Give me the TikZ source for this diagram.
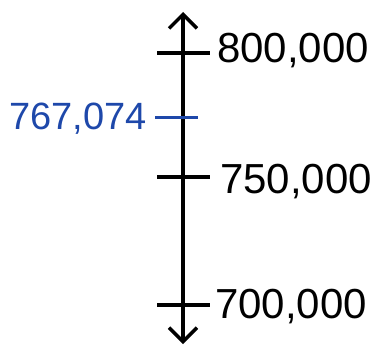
\documentclass[tikz,border=0pt]{standalone}
\usepackage{fontspec}
\setmainfont{Liberation Sans}
\usetikzlibrary{arrows.meta}
\definecolor{penblue}{RGB}{30,72,170}
\tikzset{
  axisline/.style={line width=4pt, {Straight Barb[length=14pt,width=28pt,line width=3.5pt]}-{Straight Barb[length=14pt,width=28pt,line width=3.5pt]}},
  tickline/.style={line width=4pt},
  bluetick/.style={line width=3pt, penblue},
  numlabel/.style={font=\fontsize{42}{42}\selectfont, anchor=west, inner sep=0pt},
  bluelabel/.style={font=\fontsize{38}{38}\selectfont, anchor=east, inner sep=0pt, text=penblue}
}
\begin{document}
\begin{tikzpicture}[x=1pt,y=1pt]
\useasboundingbox (0,0) rectangle (375,349);
\coordinate (top) at (183,337);
\coordinate (bot) at (183,5);
\draw[axisline] (bot) -- (top);
% ticks
\coordinate (t8a) at (157,296); \coordinate (t8b) at (210,296);
\coordinate (t75a) at (157,172); \coordinate (t75b) at (210,172);
\coordinate (t7a) at (157,44); \coordinate (t7b) at (210,44);
\draw[tickline] (t8a) -- (t8b);
\draw[tickline] (t75a) -- (t75b);
\draw[tickline] (t7a) -- (t7b);
\node[numlabel] (l8) at (217,298) {800,000};
\node[numlabel] (l75) at (220,167) {750,000};
\node[numlabel] (l7) at (215,42) {700,000};
% blue mark
\coordinate (bta) at (155,232); \coordinate (btb) at (198,232);
\draw[bluetick] (bta) -- (btb);
\node[bluelabel] (lb) at (147,230) {767,074};
\end{tikzpicture}
\end{document}
